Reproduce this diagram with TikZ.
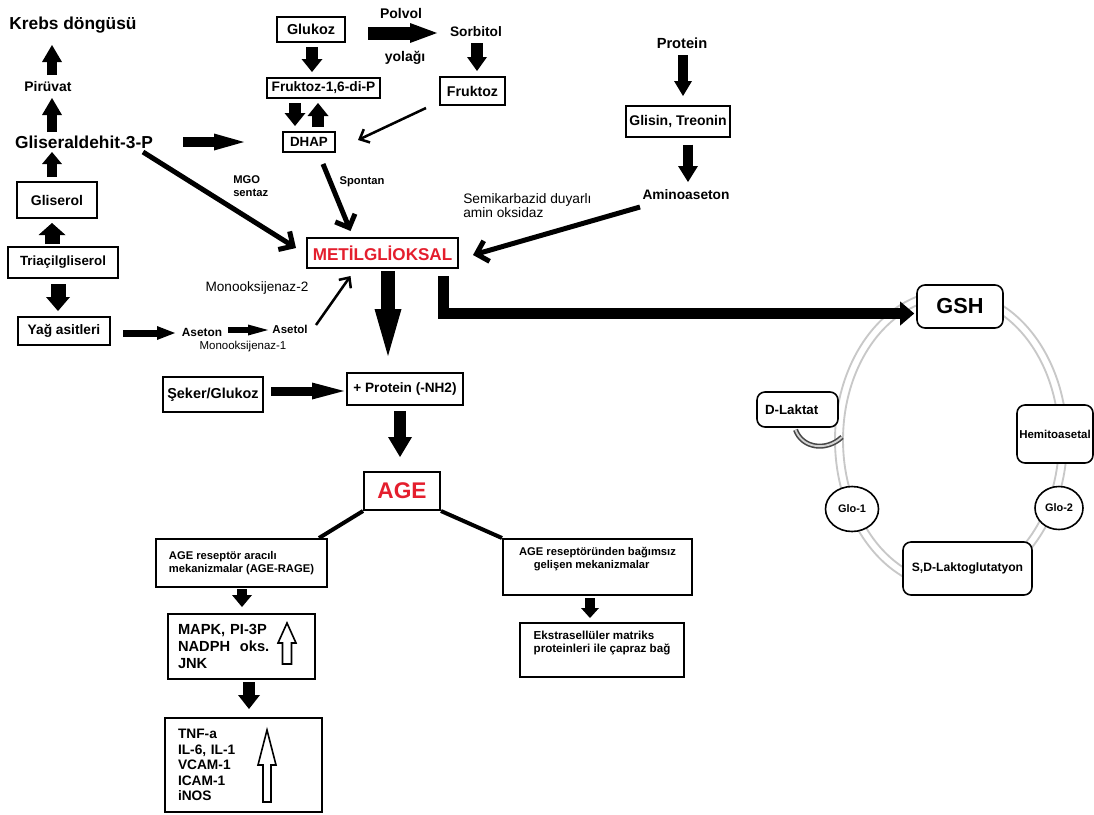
\documentclass[tikz,border=0pt]{standalone}
\usepackage{fontspec}
\setmainfont{Liberation Sans}
\usetikzlibrary{arrows.meta,calc,shapes.geometric}
\definecolor{mred}{RGB}{228,30,45}
\definecolor{ringgray}{RGB}{200,200,200}
\newcommand\myfs[2]{\fontsize{#1}{#2}\selectfont}
\begin{document}
\begin{tikzpicture}[x=0.75pt,y=-0.75pt,
  lb/.style={inner sep=0pt, font=\myfs{#1}{#1}\bfseries},
  rg/.style={inner sep=0pt, font=\myfs{#1}{#1}},
  bx/.style={draw, line width=1.5pt, fill=white, inner sep=0pt, font=\myfs{#1}{#1}\bfseries},
  rbx/.style={bx=#1, rounded corners=6pt, line width=1.2pt},
  ebx/.style={bx=#1, ellipse, line width=1.2pt},
  blk/.style n args={3}{line width=#1, -{Triangle[length=#3,width=#2,line width=0pt]}},
  vthick/.style={line width=3.75pt, -{Straight Barb[length=8pt,width=16pt]}},
  vthin/.style={line width=1.9pt, -{Straight Barb[length=6pt,width=11pt]}},
  hollow/.style={draw, line width=1.2pt, fill=white, line join=miter},
  ring/.style={draw=ringgray, line width=1.4pt},
  link/.style={line width=3pt}
]
\useasboundingbox (0,0) rectangle (1094,814);

% ---------- ring (drawn first) ----------
\draw[ring] (951,440) ellipse [x radius=87pt, y radius=112.5pt];
\draw[ring] (951,440) ellipse [x radius=81pt, y radius=106.5pt];

% ---------- left column ----------
\node[lb=13] (krebs) at (73,25) {Krebs döngüsü};
\node[lb=10.4] (piruvat) at (48,87) {Pirüvat};
\node[lb=13] (glyald) at (84,142) {Gliseraldehit-3-P};
\node[bx=10.5, minimum width=60pt, minimum height=27pt] (gliserol) at (57,200) {Gliserol};
\node[bx=10, minimum width=82.5pt, minimum height=23.25pt] (triacil) at (63,262.5) {Triaçilgliserol};
\node[bx=10.3, minimum width=69pt, minimum height=21pt] (yag) at (64,331) {Yağ asitleri};
\node[lb=8.9] (aseton) at (202,332) {Aseton};
\node[lb=8.6] (asetol) at (290,329) {Asetol};
\node[rg=8.6] (mono1) at (243,347) {Monooksijenaz-1};
\node[rg=10.2] (mono2) at (257,288) {Monooksijenaz-2};

% ---------- top middle ----------
\node[bx=10.8, minimum width=51pt, minimum height=18.75pt] (glukoz) at (311,29.5) {Glukoz};
\node[lb=10.5] (polvol) at (401,13) {Polvol};
\node[lb=10.5] (yolagi) at (405,58) {yolağı};
\node[lb=10.3] (sorbitol) at (476,32) {Sorbitol};
\node[bx=10.6, minimum width=48.75pt, minimum height=21pt] (fruktoz) at (472.5,91) {Fruktoz};
\node[bx=10.3, minimum width=84.75pt, minimum height=15pt] (f16) at (323.5,88) {Fruktoz-1,6-di-P};
\node[bx=10, minimum width=39pt, minimum height=15pt] (dhap) at (309,142) {DHAP};
\node[lb=8.4] (spontan) at (362,182) {Spontan};
\node[inner sep=0pt, anchor=west, align=left, font=\myfs{8.4}{9.75}\bfseries] (mgo) at (233,186) {MGO\\sentaz};
\node[draw, line width=1.5pt, fill=white, inner sep=0pt, minimum width=113.25pt, minimum height=22.5pt,
      text=mred, font=\myfs{12.8}{12.8}\bfseries] (metil) at (382.5,253) {METİLGLİOKSAL};

% ---------- top right ----------
\node[lb=11] (protein) at (682,43) {Protein};
\node[bx=10.5, minimum width=78pt, minimum height=23.25pt] (glisin) at (678,121.5) {Glisin, Treonin};
\node[lb=10.3] (amino) at (686,195) {Aminoaseton};
\node[inner sep=0pt, anchor=west, align=left, font=\myfs{10.3}{10.5}] (semi) at (463,206) {Semikarbazid duyarlı\\amin oksidaz};

% ---------- middle ----------
\node[bx=10.8, minimum width=75pt, minimum height=26.25pt] (seker) at (213,394.5) {Şeker/Glukoz};
\node[bx=10.2, minimum width=87pt, minimum height=24pt] (prot) at (405,389) {+ Protein (-NH2)};
\node[draw, line width=1.5pt, fill=white, inner sep=0pt, minimum width=57pt, minimum height=28.5pt,
      text=mred, font=\myfs{17}{17}\bfseries] (age) at (402,491) {AGE};

% ---------- bottom ----------
\node[draw, line width=1.5pt, fill=white, inner sep=0pt, minimum width=128.25pt, minimum height=36pt,
      align=left, font=\myfs{8.4}{9.75}\bfseries] (ager) at (241.5,563)
      {AGE reseptör aracılı\\mekanizmalar (AGE-RAGE)};
\node[draw, line width=1.5pt, fill=white, inner sep=0pt, minimum width=141.75pt, minimum height=42pt,
      align=left, font=\myfs{8.4}{9.75}\bfseries] (agei) at (597.5,567)
      {AGE reseptöründen bağımsız\\\hspace*{11pt}gelişen mekanizmalar\\[4pt]};
\node[draw, line width=1.5pt, fill=white, inner xsep=7.5pt, inner ysep=0pt, minimum height=48.75pt,
      text width=95.25pt, align=left, font=\myfs{11}{12.75}\bfseries] (mapk) at (241.5,646.5)
      {MAPK, PI-3P\\NADPH\ \ oks.\\JNK};
\node[draw, line width=1.5pt, fill=white, inner xsep=9.75pt, inner ysep=0pt, minimum height=70.5pt,
      text width=98.25pt, align=left, font=\myfs{10.3}{11.6}\bfseries] (tnf) at (243.5,765)
      {TNF-a\\IL-6, IL-1\\VCAM-1\\ICAM-1\\iNOS};
\node[draw, line width=1.5pt, fill=white, inner sep=0pt, minimum width=123pt, minimum height=40.5pt,
      align=left, font=\myfs{8.7}{9.75}\bfseries] (ekstra) at (602,650)
      {Ekstrasellüler matriks\\proteinleri ile çapraz bağ\\[3pt]};

% ---------- cycle ----------
\node[rbx=16.3, minimum width=64.5pt, minimum height=32.25pt] (gsh) at (960,306.5) {GSH};
\node[rbx=10, minimum width=60.75pt, minimum height=26.25pt, inner xsep=6pt, text width=48.75pt, align=left] (dlaktat) at (797.5,409.5) {D-Laktat};
\node[rbx=8.6, minimum width=57pt, minimum height=43.5pt] (hemi) at (1055,434) {Hemitoasetal};
\node[ebx=8.2, minimum width=39.75pt, minimum height=33.75pt] (glo1) at (852,509) {Glo-1};
\node[ebx=8.2, minimum width=36pt, minimum height=32.25pt] (glo2) at (1059,508) {Glo-2};
\node[rbx=9.1, minimum width=96.75pt, minimum height=39.75pt] (sdl) at (967.5,568.5) {S,D-Laktoglutatyon};

\coordinate (hookend) at (842,437);
\draw[draw=gray!55!black, line width=1.2pt, double=gray!35, double distance=1.4pt]
  ($(dlaktat.south)+(-2,2)$) .. controls (802,448) and (826,452) .. (hookend);

% ---------- arrows: left column ----------
\draw[blk={7.5pt}{15pt}{12.75pt}] ($(piruvat)+(4,-12)$) -- ($(krebs)+(-21,20)$);
\draw[blk={7.5pt}{15pt}{12.75pt}] ($(glyald)+(-32,-10)$) -- ($(piruvat)+(4,11)$);
\draw[blk={7.5pt}{15pt}{9pt}] ($(gliserol.north)+(-5,-4)$) -- ($(glyald)+(-32,10)$);
\draw[blk={11.25pt}{20.25pt}{9pt}] ($(triacil.north)+(-11,-2)$) -- ($(gliserol.south)+(-5,4)$);
\draw[blk={11.25pt}{18pt}{10.5pt}] ($(triacil.south)+(-5,5)$) -- ($(yag.north)+(-6,-5)$);
\draw[blk={5.25pt}{10.5pt}{13.5pt}] ($(yag.east)+(12,2)$) -- ($(aseton)+(-27,1)$);
\draw[blk={4.5pt}{8.25pt}{15pt}] ($(aseton)+(26,-2)$) -- ($(asetol)+(-22,1)$);
\draw[vthin] ($(asetol)+(26,-4)$) -- ($(metil.south)+(-32,7)$);
\draw[blk={7.5pt}{12.75pt}{22.5pt}] ($(glyald)+(99,0)$) -- ($(dhap.west)+(-38,0)$);
\draw[vthick] ($(glyald)+(59,10)$) -- ($(metil.west)+(-10,-5)$);

% ---------- arrows: top middle ----------
\draw[blk={9pt}{15.75pt}{9.75pt}] ($(glukoz.south)+(1,4)$) -- ($(f16.north)+(-11.5,-5)$);
\draw[blk={9pt}{15.75pt}{9.75pt}] ($(f16.south)+(-28.5,4)$) -- ($(dhap.north)+(-14,-5)$);
\draw[blk={9pt}{15.75pt}{9.75pt}] ($(dhap.north)+(9,-4)$) -- ($(f16.south)+(-5.5,4)$);
\draw[blk={9.75pt}{15pt}{20.25pt}] ($(glukoz.east)+(22,3.5)$) -- ($(sorbitol)+(-39,1)$);
\draw[blk={9pt}{15pt}{10.5pt}] ($(sorbitol)+(1,11)$) -- ($(fruktoz.north)+(4.5,-5)$);
\draw[vthin] ($(fruktoz.south west)+(-13,2)$) -- ($(dhap.east)+(22,-2)$);
\draw[vthick] ($(dhap.south)+(14,11)$) -- ($(metil.north)+(-32,-6)$);

% ---------- arrows: top right ----------
\draw[blk={7.5pt}{13.5pt}{11.25pt}] ($(protein)+(1,12)$) -- ($(glisin.north)+(5,-9)$);
\draw[blk={7.5pt}{15pt}{12pt}] ($(glisin.south)+(10,6.5)$) -- ($(amino)+(2,-13)$);
\draw[vthick] ($(amino)+(-46,12)$) -- ($(metil.east)+(14,2)$);

% ---------- arrows: middle ----------
\draw[blk={10.5pt}{20.25pt}{35.25pt}] ($(metil.south)+(5.5,2)$) -- ($(prot.north)+(-17,-16)$);
\draw[blk={6.75pt}{12.75pt}{24pt}] ($(seker.east)+(7,-3.5)$) -- ($(prot.west)+(-2,2)$);
\draw[blk={9pt}{18pt}{15pt}] ($(prot.south)+(-5,5)$) -- ($(age.north)+(-2,-14)$);
\draw[blk={8.25pt}{18pt}{10.5pt}] ($(metil.south east)+(-16,7)$) |- ($(gsh.west)+(-2,7)$);

% ---------- arrows: bottom ----------
\draw[link] (age.south west) -- ($(ager.north)+(77.5,0)$);
\draw[link] (age.south east) -- (agei.north west);
\draw[blk={7.5pt}{15pt}{9pt}] ($(ager.south)+(0.5,1)$) -- ($(mapk.north)+(0.5,-6)$);
\draw[blk={9pt}{16.5pt}{10.5pt}] ($(mapk.south)+(7.5,2)$) -- ($(tnf.north)+(5.5,-8)$);
\draw[blk={7.5pt}{13.5pt}{7.5pt}] ($(agei.south)+(-7.5,2)$) -- ($(ekstra.north)+(-12,-4)$);

% hollow up arrows inside boxes
\draw[hollow] (282.5,664) -- (282.5,643) -- (278,643) -- (287,623) -- (296,643) -- (291.5,643) -- (291.5,664) -- cycle;
\draw[hollow] (263,802) -- (263,765) -- (258,765) -- (267,730) -- (276,765) -- (271,765) -- (271,802) -- cycle;
\end{tikzpicture}
\end{document}
